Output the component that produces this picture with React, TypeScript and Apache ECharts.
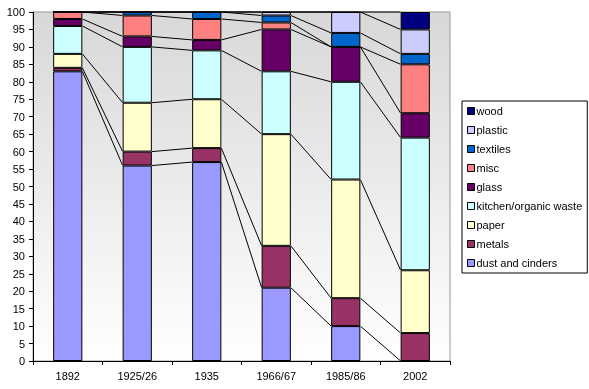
import React, { useEffect, useRef } from "react";
import * as echarts from "echarts";

const categories = ["1892", "1925/26", "1935", "1966/67", "1985/86", "2002"];
const seriesNames = ["dust and cinders", "metals", "paper", "kitchen/organic waste", "glass", "misc", "textiles", "plastic", "wood"];
const seriesColors = ["#9999FF", "#993366", "#FFFFCC", "#CCFFFF", "#660066", "#FF8080", "#0066CC", "#CCCCFF", "#000080"];
const dust = [83, 56, 57, 21, 10, 0];
const metals = [1, 4, 4, 12, 8, 8];
const paper = [4, 14, 14, 32, 34, 18];
const kitchen = [8, 16, 14, 18, 28, 38];
const glass = [2, 3, 3, 12, 10, 7];
const misc = [2, 6, 6, 2, 0, 14];
const textiles = [0, 1, 2, 2, 4, 3];
const plastic = [0, 0, 0, 1, 6, 7];
const wood = [0, 0, 0, 0, 0, 5];
const seriesValues = [dust, metals, paper, kitchen, glass, misc, textiles, plastic, wood];

const BAR_FRACTION = 0.42;

export default function App() {
  const ref = useRef<HTMLDivElement>(null);
  useEffect(() => {
    if (!ref.current) return;
    const chart = echarts.init(ref.current, null, { renderer: "svg" });
    const cum: number[][] = categories.map((_, ci) => {
      let s = 0;
      return seriesValues.map((vals) => (s += vals[ci]));
    });
    const font = "Liberation Sans, Arial, sans-serif";
    const barSeries = seriesNames.map((name, k) => ({
      name,
      type: "bar",
      stack: "total",
      barWidth: `${BAR_FRACTION * 100}%`,
      data: seriesValues[k],
      itemStyle: { color: seriesColors[k], borderColor: "#000", borderWidth: 1 },
      emphasis: { disabled: true },
    }));
    const linesSeries = {
      type: "custom",
      name: "series lines",
      data: categories.slice(0, -1).map((_, i) => [i, 0]),
      z: 3,
      silent: true,
      renderItem: (params: any, api: any) => {
        const i = api.value(0);
        const bw = api.size([1, 0])[0] * BAR_FRACTION;
        const children = seriesNames.map((_, k) => {
          const p1 = api.coord([i, cum[i][k]]);
          const p2 = api.coord([i + 1, cum[i + 1][k]]);
          return {
            type: "line",
            shape: { x1: p1[0] + bw / 2, y1: p1[1], x2: p2[0] - bw / 2, y2: p2[1] },
            style: { stroke: "#000", lineWidth: 1 },
          };
        });
        return { type: "group", children };
      },
    };
    chart.setOption({
      animation: false,
      grid: {
        left: 33,
        right: 139,
        top: 12,
        bottom: 28,
        show: true,
        borderColor: "#999",
        borderWidth: 1,
        backgroundColor: {
          type: "linear",
          x: 0,
          y: 0,
          x2: 0,
          y2: 1,
          colorStops: [
            { offset: 0, color: "#d8d8d8" },
            { offset: 1, color: "#ffffff" },
          ],
        },
      },
      legend: {
        data: seriesNames.slice().reverse(),
        orient: "vertical",
        left: 462,
        top: 101,
        padding: [4, 5, 4, 5],
        itemGap: 7,
        itemWidth: 7,
        itemHeight: 7,
        icon: "rect",
        borderColor: "#000",
        borderWidth: 1,
        backgroundColor: "#fff",
        borderRadius: 0,
        selectedMode: false,
        itemStyle: { borderColor: "#000", borderWidth: 1 },
        textStyle: { fontFamily: font, fontSize: 11, color: "#000", lineHeight: 12, padding: [0, 0, 0, -3] },
      },
      xAxis: {
        type: "category",
        data: categories,
        boundaryGap: true,
        axisLine: { lineStyle: { color: "#000", width: 1 } },
        axisTick: { show: true, length: 4, lineStyle: { color: "#000" } },
        axisLabel: { fontFamily: font, fontSize: 11, color: "#000", margin: 9 },
        splitLine: { show: false },
      },
      yAxis: {
        type: "value",
        min: 0,
        max: 100,
        interval: 5,
        axisLine: { show: true, lineStyle: { color: "#000", width: 1 } },
        axisTick: { show: true, length: 4, lineStyle: { color: "#000" } },
        axisLabel: { fontFamily: font, fontSize: 11, color: "#000", margin: 8 },
        splitLine: { show: false },
      },
      series: [...barSeries, linesSeries],
    });
    return () => chart.dispose();
  }, []);
  return <div ref={ref} style={{ position: "fixed", left: 0, top: 0, width: 589, height: 389 }} />;
}
